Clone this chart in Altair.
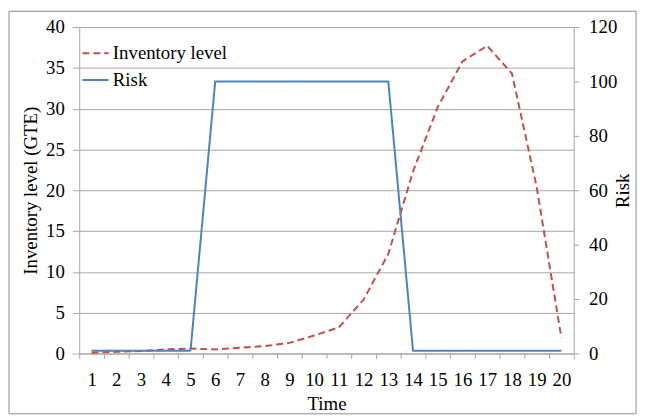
import altair as alt
import pandas as pd

time = list(range(1, 21))
inventory = [0.1, 0.2, 0.3, 0.5, 0.6, 0.5, 0.7, 0.9, 1.3, 2.2, 3.2, 6.6, 12.2, 22.3, 30.2, 35.8, 37.7, 34.3, 20.4, 1.9]
risk = [1, 1, 1, 1, 1, 100, 100, 100, 100, 100, 100, 100, 100, 1, 1, 1, 1, 1, 1, 1]
series_names = ["Inventory level", "Risk"]
series_colors = ["#C0504D", "#4F81BD"]

inv_df = pd.DataFrame({"Time": time, "value": inventory, "series": series_names[0]})
risk_df = pd.DataFrame({"Time": time, "value": risk, "series": series_names[1]})

FONT = "Liberation Serif"
GRID = "#A6A6A6"
FS = 19

common_axis = dict(labelFont=FONT, titleFont=FONT, labelFontSize=FS, titleFontSize=FS,
                   labelColor="black", titleColor="black", titleFontWeight="normal",
                   domainColor=GRID, tickColor=GRID)

x_enc = alt.X(
    "Time:O",
    scale=alt.Scale(type="band", paddingInner=0, paddingOuter=0),
    bandPosition=0.5,
    axis=alt.Axis(title="Time", labelAngle=0, tickBand="extent", tickSize=5,
                  labelPadding=12, titlePadding=6, grid=False, **common_axis),
)

legend_cfg = dict(title=None, orient="none", legendX=2, legendY=12,
                  symbolType="stroke", symbolSize=700, symbolStrokeWidth=2,
                  labelFontSize=FS, labelFont=FONT, labelColor="black",
                  labelOffset=3, rowPadding=2)

color_enc = alt.Color("series:N", scale=alt.Scale(domain=series_names, range=series_colors),
                      legend=alt.Legend(**legend_cfg))
dash_enc = alt.StrokeDash("series:N", scale=alt.Scale(domain=series_names, range=[[7, 4], [1, 0]]),
                          legend=alt.Legend(**legend_cfg))

inv_line = alt.Chart(inv_df).mark_line(strokeWidth=2).encode(
    x=x_enc,
    y=alt.Y("value:Q", scale=alt.Scale(domain=[0, 40]),
            axis=alt.Axis(title="Inventory level (GTE)", values=list(range(0, 41, 5)),
                          grid=True, gridColor=GRID, tickSize=7, labelPadding=8,
                          titlePadding=5, **common_axis)),
    color=color_enc,
    strokeDash=dash_enc,
)

risk_line = alt.Chart(risk_df).mark_line(strokeWidth=2).encode(
    x=x_enc,
    y=alt.Y("value:Q", scale=alt.Scale(domain=[0, 120]),
            axis=alt.Axis(title="Risk", orient="right", values=list(range(0, 121, 20)),
                          grid=False, tickSize=5, labelPadding=10, titleAngle=270,
                          titlePadding=16, **common_axis)),
    color=color_enc,
    strokeDash=dash_enc,
)

frame = alt.Chart(pd.DataFrame({"a": [0]})).mark_rect(
    fill=None, stroke="#8C8C8C", strokeWidth=1, clip=False
).encode(
    x=alt.value(-71), x2=alt.value(563), y=alt.value(-16), y2=alt.value(391)
)

chart = alt.layer(inv_line, risk_line, frame).resolve_scale(
    y="independent"
).properties(
    width=500, height=330,
    autosize=alt.AutoSizeParams(type="none"),
    padding={"left": 72, "top": 17, "right": 70, "bottom": 66},
).configure(font=FONT).configure_axis(
    labelFont=FONT, titleFont=FONT
).configure_view(stroke=None)

chart.save("out.html", embed_options={"renderer": "svg", "actions": False})
